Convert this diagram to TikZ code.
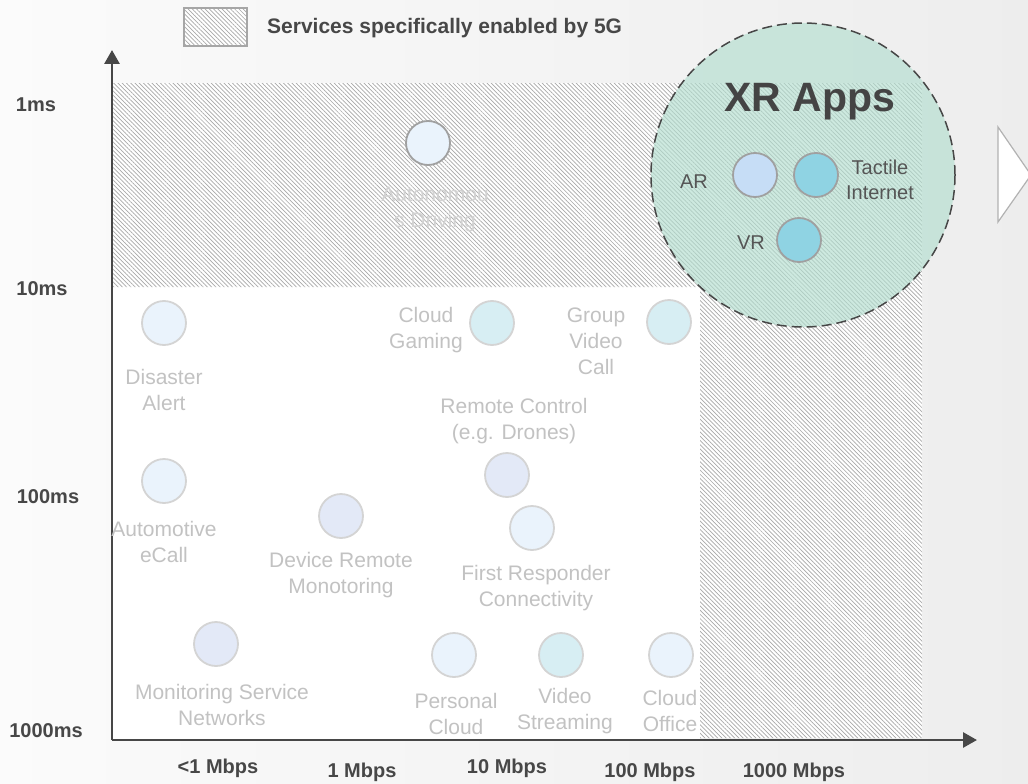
\documentclass[tikz,border=0pt]{standalone}
\usepackage{fontspec}
\setmainfont{Liberation Sans}
\usetikzlibrary{arrows.meta,patterns.meta}
\definecolor{axgray}{HTML}{474747}
\definecolor{hatchgray}{HTML}{A8A8A8}
\definecolor{lblgray}{HTML}{C2C2C2}
\definecolor{autogray}{HTML}{D2D2D2}
\definecolor{circgray}{HTML}{D4D4D4}
\definecolor{darkcirc}{HTML}{A0A0A0}
\definecolor{paleblue}{HTML}{EAF3FC}
\definecolor{palecyan}{HTML}{D7EEF3}
\definecolor{palelav}{HTML}{E3E9F7}
\definecolor{arblue}{HTML}{C6DDF6}
\definecolor{vrcyan}{HTML}{8FD3E3}
\definecolor{xrgreen}{HTML}{B3DECF}
\definecolor{xrtext}{HTML}{444444}
\definecolor{innertext}{HTML}{555555}
\begin{document}
\begin{tikzpicture}[x=1pt,y=-1pt,
  hatch/.style={pattern={Lines[angle=-45,distance=3pt,line width=0.7pt]},pattern color=hatchgray},
  svc/.style={circle,minimum size=44pt,inner sep=0pt,line width=1.8pt,draw=circgray},
  xrsvc/.style={circle,minimum size=44pt,inner sep=0pt,line width=1.8pt,draw=darkcirc},
  lbl/.style={text=lblgray,align=center,font=\fontsize{21}{26}\selectfont},
  inlbl/.style={text=innertext,align=center,font=\fontsize{20}{25}\selectfont},
  axlbl/.style={text=axgray,font=\bfseries\fontsize{20}{24}\selectfont},
  axis/.style={draw=axgray,line width=2.8pt,-{Triangle[length=14pt,width=15pt]}}
]
\useasboundingbox (0,0) rectangle (1028,784);
\clip (0,0) rectangle (1028,784);
% background
\shade[left color=white!60!black!4, right color=black!7] (0,0) rectangle (1028,784);
\fill[white] (113,287) rectangle (700,740);
% hatched 5G region
\fill[white] (113,83) -- (922,83) -- (922,738) -- (700,738) -- (700,287) -- (113,287) -- cycle;
\fill[hatch] (113,83) -- (922,83) -- (922,738) -- (700,738) -- (700,287) -- (113,287) -- cycle;
% legend
\node[draw=black!35,line width=1.5pt,fill=white,minimum width=63pt,minimum height=38pt,inner sep=0pt] (legbg) at (215.5,27) {};
\node[hatch,draw=black!35,line width=1.5pt,minimum width=63pt,minimum height=38pt,inner sep=0pt] (legbox) at (215.5,27) {};
\node[anchor=west,text=axgray,font=\bfseries\fontsize{21}{25}\selectfont,inner sep=0pt] (legtxt) at (267,28) {Services specifically enabled by 5G};
% axes
\coordinate (O) at (112,740);
\coordinate (ytop) at (112,50);
\coordinate (xend) at (977,740);
\draw[axis] (O) -- (ytop);
\draw[axis] (O) -- (xend);
% axis labels
\node[axlbl] (l1) at (36,105) {1ms};
\node[axlbl] (l10) at (42,289) {10ms};
\node[axlbl] (l100) at (48,497) {100ms};
\node[axlbl] (l1000) at (46,731) {1000ms};
\node[axlbl] (b1) at (218,768) {<1 Mbps};
\node[axlbl] (b2) at (362,772) {1 Mbps};
\node[axlbl] (b3) at (507,768) {10 Mbps};
\node[axlbl] (b4) at (650,772) {100 Mbps};
\node[axlbl] (b5) at (794,772) {1000 Mbps};
% triangle at right
\draw[fill=white,draw=black!30,line width=1.2pt] (998,127) -- (1031,175) -- (998,222) -- cycle;
% services
\node[svc,draw=darkcirc,fill=paleblue] (auto) at (428,143) {};
\node[lbl,text=autogray] (autot) at (435,209) {Autonomou\\s Driving};
\node[svc,fill=paleblue] (dis) at (164,323) {};
\node[lbl] (dist) at (164,390) {Disaster\\Alert};
\node[svc,fill=palecyan] (cg) at (492,323) {};
\node[lbl] (cgt) at (426,330) {Cloud\\Gaming};
\node[svc,fill=palecyan] (gv) at (669,322) {};
\node[lbl] (gvt) at (596,341) {Group\\Video\\Call};
\node[svc,fill=palelav] (rc) at (507,475) {};
\node[lbl] (rct) at (514,421) {Remote Control\\(e.g. Drones)};
\node[svc,fill=paleblue] (ae) at (164,481) {};
\node[lbl] (aet) at (164,542) {Automotive\\eCall};
\node[svc,fill=palelav] (drm) at (341,516) {};
\node[lbl] (drmt) at (341,575) {Device Remote\\Monotoring};
\node[svc,fill=paleblue] (fr) at (532,528) {};
\node[lbl] (frt) at (536,588) {First Responder\\Connectivity};
\node[svc,fill=palelav] (ms) at (216,644) {};
\node[lbl] (mst) at (222,705) {Monitoring Service\\Networks};
\node[svc,fill=paleblue] (pc) at (454,655) {};
\node[lbl] (pct) at (456,714) {Personal\\Cloud};
\node[svc,fill=palecyan] (vs) at (561,655) {};
\node[lbl] (vst) at (565,711) {Video\\Streaming};
\node[svc,fill=paleblue] (co) at (671,655) {};
\node[lbl] (cot) at (670,711) {Cloud\\Office};
% XR apps
\node[circle,minimum size=304pt,inner sep=0pt,fill=xrgreen,fill opacity=0.65,draw=axgray,draw opacity=1,line width=1.5pt,dash pattern=on 10pt off 5pt] (xr) at (803,175) {};
\node[text=xrtext,font=\bfseries\fontsize{41}{46}\selectfont] (xrt) at (810,102) {XR Apps};
\node[xrsvc,fill=arblue] (ar) at (755,175) {};
\node[xrsvc,fill=vrcyan] (ti) at (816,175) {};
\node[xrsvc,fill=vrcyan] (vr) at (799,240) {};
\node[inlbl] (art) at (694,182) {AR};
\node[inlbl] (tit) at (880,180) {Tactile\\Internet};
\node[inlbl] (vrt) at (751,243) {VR};
\end{tikzpicture}
\end{document}
